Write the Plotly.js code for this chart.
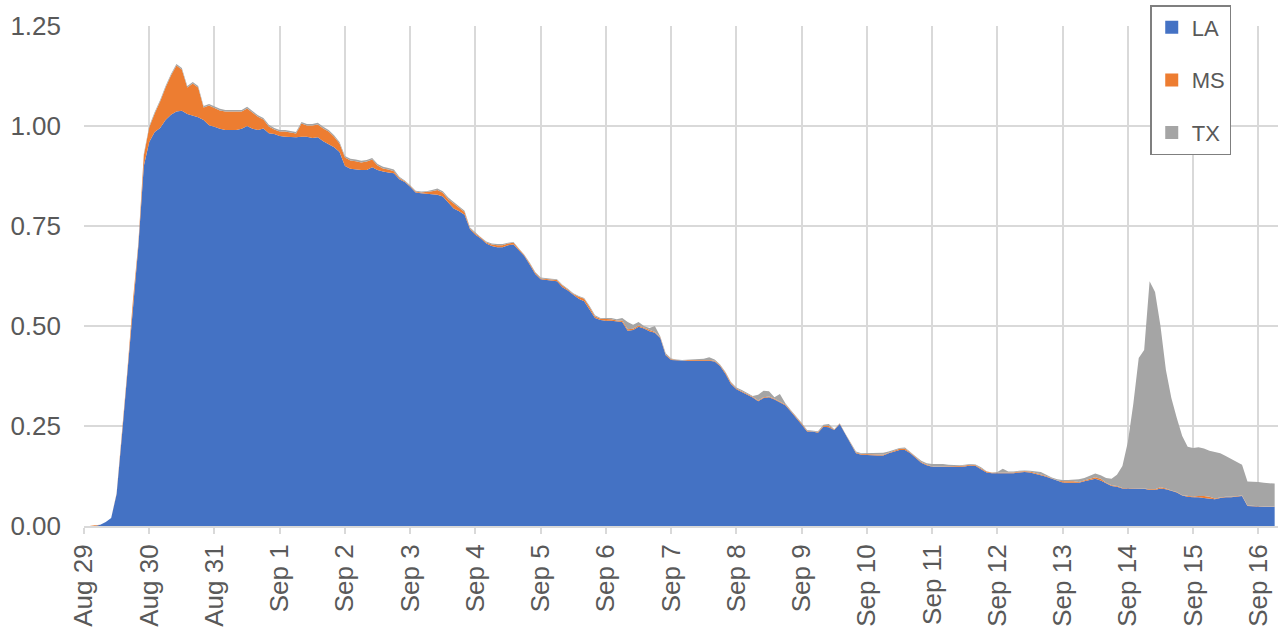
<!DOCTYPE html>
<html>
<head>
<meta charset="utf-8">
<script src="https://cdn.plot.ly/plotly-3.0.1.min.js"></script>
<style>
  html, body { margin: 0; padding: 0; background: #ffffff; }
  #chart { width: 1278px; height: 633px; }
</style>
</head>
<body>
<div id="chart"></div>
<script>
// Time series: one reading every 2 hours starting Aug 29 00:00
const START_TIME = '2005-08-29T00:00:00Z';
const STEP_HOURS = 2;

const SERIES_NAMES = ['LA', 'MS', 'TX'];
const SERIES_COLORS = ['#4472C4', '#ED7D31', '#A5A5A5'];

const LA = [
  0,0,0,0.003,0.01,0.02,0.08,0.23,0.39,0.56,
  0.70,0.90,0.96,0.985,0.995,1.015,1.028,1.036,1.038,1.03,
  1.026,1.022,1.015,1.002,0.998,0.993,0.99,0.99,0.99,0.993,
  1.0,0.993,0.99,0.994,0.982,0.98,0.975,0.973,0.972,0.972,
  0.973,0.973,0.97,0.972,0.962,0.955,0.947,0.935,0.90,0.893,
  0.891,0.89,0.89,0.897,0.89,0.886,0.884,0.882,0.867,0.86,
  0.848,0.834,0.832,0.831,0.83,0.828,0.824,0.808,0.794,0.787,
  0.778,0.742,0.728,0.719,0.706,0.70,0.697,0.697,0.702,0.704,
  0.69,0.675,0.653,0.63,0.617,0.615,0.614,0.612,0.597,0.589,
  0.578,0.568,0.562,0.542,0.52,0.515,0.513,0.513,0.511,0.51,
  0.488,0.49,0.498,0.494,0.487,0.483,0.47,0.427,0.415,0.414,
  0.413,0.413,0.413,0.413,0.413,0.413,0.411,0.40,0.38,0.355,
  0.342,0.336,0.328,0.321,0.312,0.32,0.322,0.316,0.31,0.302,
  0.286,0.271,0.254,0.236,0.236,0.233,0.248,0.247,0.24,0.255,
  0.23,0.205,0.182,0.178,0.178,0.177,0.176,0.176,0.182,0.186,
  0.19,0.19,0.182,0.17,0.158,0.152,0.148,0.148,0.148,0.147,
  0.147,0.148,0.149,0.151,0.15,0.143,0.134,0.132,0.132,0.132,
  0.132,0.132,0.134,0.135,0.134,0.131,0.127,0.123,0.118,0.112,
  0.109,0.108,0.108,0.108,0.112,0.115,0.118,0.114,0.106,0.10,
  0.098,0.094,0.094,0.094,0.094,0.093,0.09,0.09,0.094,0.092,
  0.088,0.084,0.076,0.073,0.072,0.072,0.07,0.068,0.067,0.07,
  0.072,0.072,0.073,0.075,0.05,0.049,0.049,0.048,0.048,0.048
];

const MS = [
  0,0,0.002,0,0,0,0.002,0.003,0.003,0.004,
  0.006,0.026,0.036,0.046,0.066,0.081,0.098,0.115,0.103,0.066,
  0.08,0.074,0.031,0.049,0.046,0.046,0.046,0.046,0.046,0.043,
  0.044,0.041,0.033,0.022,0.017,0.011,0.011,0.013,0.012,0.009,
  0.033,0.028,0.031,0.032,0.032,0.031,0.026,0.021,0.021,0.021,
  0.021,0.019,0.021,0.019,0.011,0.008,0.007,0.005,0.003,0.002,
  0.002,0.002,0.002,0.004,0.007,0.012,0.009,0.009,0.012,0.009,
  0.007,0.002,0.003,0.002,0.003,0.004,0.005,0.005,0.004,0.004,
  0.002,0.002,0.003,0.003,0.002,0.002,0.002,0.003,0.004,0.002,
  0.002,0.005,0.006,0.005,0.004,0.003,0.004,0.004,0.003,0.004,
  0.004,0.003,0.003,0.002,0.003,0.002,0.002,0.002,0.002,0.001,
  0.001,0.002,0.002,0.002,0.002,0.002,0.002,0.002,0.003,0.003,
  0.002,0.002,0.002,0.002,0.002,0.002,0.002,0.002,0.002,0.002,
  0.002,0.002,0.002,0.002,0.001,0.002,0.002,0.003,0.001,0.001,
  0.001,0.001,0.002,0.002,0.002,0.003,0.003,0.002,0.002,0.002,
  0.003,0.003,0.002,0.002,0.002,0.002,0.001,0.001,0.001,0.003,
  0.003,0.002,0.002,0.002,0.002,0.002,0.002,0.001,0.001,0.001,
  0.001,0.002,0.002,0.002,0.002,0.002,0.002,0.002,0.001,0.002,
  0.003,0.004,0.004,0.002,0.002,0.002,0.004,0.004,0.002,0.002,
  0.002,0.001,0.001,0.001,0.001,0.001,0.002,0.002,0.003,0.002,
  0.001,0.001,0.001,0.002,0.002,0.003,0.005,0.005,0.002,0.001,
  0.001,0.001,0.001,0.001,0.001,0.001,0.001,0.001,0.001,0.001
];

const TX = [
  0,0,0,0,0,0,0,0,0,0.001,
  0.002,0.004,0.004,0.004,0.004,0.004,0.004,0.004,0.004,0.004,
  0.004,0.004,0.004,0.004,0.004,0.004,0.004,0.004,0.004,0.004,
  0.004,0.004,0.004,0.004,0.004,0.004,0.004,0.004,0.004,0.004,
  0.004,0.004,0.004,0.004,0.004,0.004,0.004,0.004,0.004,0.004,
  0.004,0.004,0.004,0.004,0.004,0.004,0.004,0.004,0.003,0.002,
  0.002,0.002,0.002,0.002,0.003,0.004,0.004,0.004,0.004,0.004,
  0.003,0.002,0.002,0.001,0.002,0.002,0.003,0.003,0.002,0.002,
  0.002,0.001,0.002,0.002,0.002,0.002,0.002,0.002,0.002,0.002,
  0.002,0.002,0.002,0.003,0.003,0.002,0.003,0.003,0.003,0.006,
  0.018,0.010,0.009,0.004,0.005,0.015,0.002,0.003,0.002,0.001,
  0.001,0.001,0.002,0.003,0.003,0.007,0.003,0.002,0.002,0.002,
  0.002,0.002,0.002,0.002,0.014,0.016,0.013,0.004,0.018,0.003,
  0.002,0.002,0.002,0.002,0.002,0.002,0.003,0.005,0.001,0.001,
  0.001,0.002,0.002,0.002,0.002,0.002,0.003,0.005,0.002,0.002,
  0.002,0.003,0.002,0.002,0.003,0.003,0.006,0.006,0.006,0.003,
  0.002,0.002,0.002,0.002,0.002,0.002,0.001,0.001,0.002,0.010,
  0.003,0.002,0.002,0.002,0.002,0.003,0.006,0.003,0.002,0.003,
  0.003,0.003,0.004,0.007,0.006,0.008,0.009,0.009,0.012,0.016,
  0.028,0.055,0.115,0.21,0.325,0.346,0.52,0.493,0.403,0.296,
  0.231,0.185,0.148,0.123,0.121,0.122,0.119,0.115,0.116,0.111,
  0.102,0.095,0.088,0.077,0.06,0.061,0.06,0.059,0.058,0.057
];

const Y_TICKS = [0, 0.25, 0.5, 0.75, 1.0, 1.25];

function pad(n) { return (n < 10 ? '0' : '') + n; }
const t0 = Date.parse(START_TIME);
const times = LA.map((_, i) => {
  const d = new Date(t0 + i * STEP_HOURS * 3600000);
  return d.getUTCFullYear() + '-' + pad(d.getUTCMonth() + 1) + '-' + pad(d.getUTCDate()) +
         ' ' + pad(d.getUTCHours()) + ':' + pad(d.getUTCMinutes());
});

const values = [LA, MS, TX];
const traces = [];
values.forEach((v, k) => {
  traces.push({
    type: 'scatter', x: times, y: v, name: SERIES_NAMES[k],
    stackgroup: 'one', mode: 'lines', line: { width: 0, color: SERIES_COLORS[k] },
    fillcolor: SERIES_COLORS[k], showlegend: false, hoverinfo: 'x+y+name'
  });
});
// legend entries with square markers
values.forEach((v, k) => {
  traces.push({
    type: 'scatter', x: [null], y: [null], name: SERIES_NAMES[k], mode: 'markers',
    marker: { symbol: 'square', size: 13, color: SERIES_COLORS[k], line: { width: 0 } },
    legendgroup: 'g' + k, showlegend: true
  });
});

const layout = {
  width: 1278, height: 633,
  margin: { l: 84, r: 0, t: 26, b: 107, pad: 0 },
  paper_bgcolor: '#ffffff', plot_bgcolor: '#ffffff',
  font: { family: 'Liberation Sans, Arial, sans-serif', color: '#595959', size: 24 },
  xaxis: {
    type: 'date',
    range: ['2005-08-29 00:00', '2005-09-16 07:14'],
    tick0: '2005-08-29', dtick: 86400000,
    tickformat: '%b %-d', tickangle: -90,
    showgrid: true, gridcolor: '#d9d9d9', gridwidth: 2,
    ticks: 'outside', ticklen: 6, tickwidth: 2, tickcolor: '#d9d9d9',
    showline: true, linecolor: '#d9d9d9', linewidth: 2,
    zeroline: false,
    tickfont: { size: 26, color: '#595959' }
  },
  yaxis: {
    range: [0, 1.25], tickvals: Y_TICKS, tickformat: '.2f',
    showgrid: true, gridcolor: '#d9d9d9', gridwidth: 2,
    zeroline: false, showline: false, ticks: '',
    ticklabelstandoff: 22,
    tickfont: { size: 26, color: '#595959' }
  },
  legend: {
    x: 0.893, y: 1.042, xanchor: 'left', yanchor: 'top',
    bgcolor: '#ffffff', bordercolor: '#7f7f7f', borderwidth: 1.5,
    font: { size: 22, color: '#595959' },
    traceorder: 'grouped', tracegroupgap: 21
  },
  showlegend: true
};

Plotly.newPlot('chart', traces, layout, { displayModeBar: false, staticPlot: true });
</script>
</body>
</html>
